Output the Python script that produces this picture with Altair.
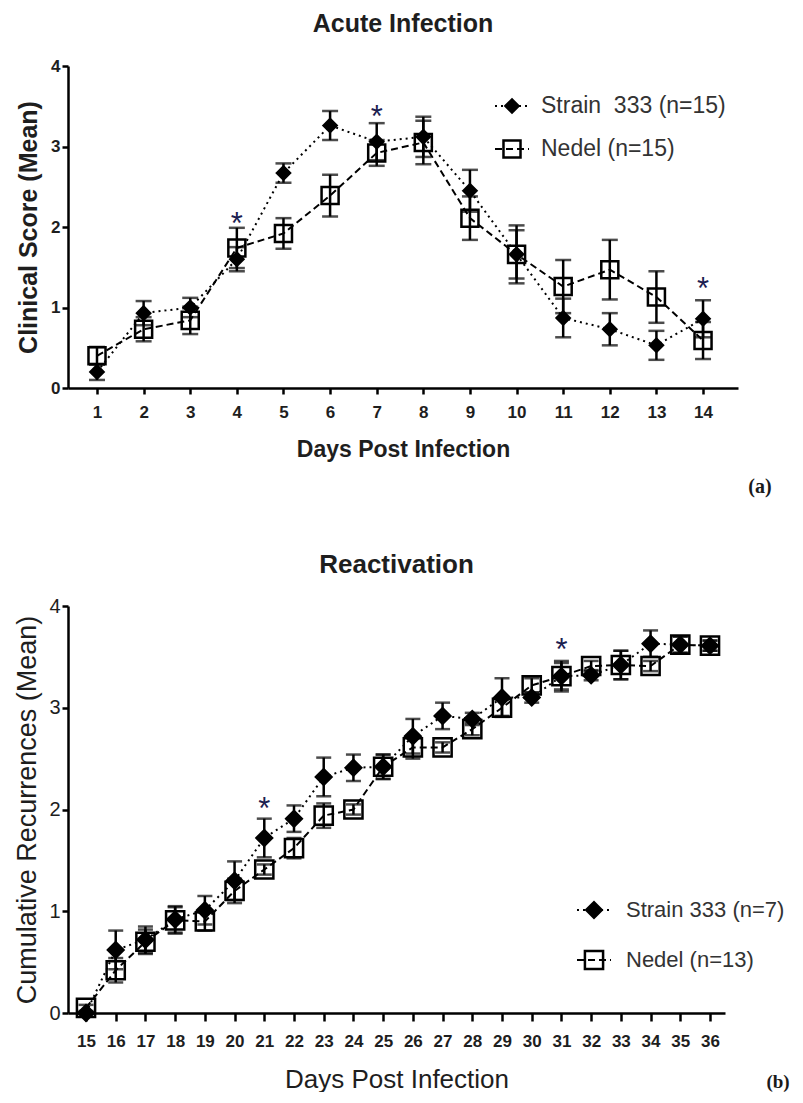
import altair as alt
import pandas as pd

# ---------------- data: acute infection ----------------
days_acute = list(range(1, 15))
strain_acute = [0.20, 0.93, 1.00, 1.60, 2.67, 3.26, 3.06, 3.12, 2.45, 1.66, 0.87, 0.73, 0.53, 0.86]
strain_acute_err = [0.10, 0.15, 0.12, 0.15, 0.12, 0.18, 0.23, 0.25, 0.26, 0.36, 0.24, 0.20, 0.18, 0.23]
nedel_acute = [0.40, 0.73, 0.84, 1.74, 1.92, 2.39, 2.92, 3.05, 2.11, 1.66, 1.26, 1.47, 1.13, 0.59]
nedel_acute_err = [0.11, 0.15, 0.17, 0.25, 0.19, 0.26, 0.16, 0.27, 0.27, 0.30, 0.33, 0.37, 0.32, 0.23]
names_acute = ["Strain\u00a0 333 (n=15)", "Nedel (n=15)"]
sig_days_acute = [4, 7, 14]
sig_y_acute = [2.12, 3.45, 1.32]

# ---------------- data: reactivation ----------------
days_react = list(range(15, 37))
strain_react = [0.00, 0.62, 0.72, 0.92, 1.01, 1.30, 1.72, 1.91, 2.32, 2.41, 2.42, 2.72, 2.92, 2.89,
                3.10, 3.10, 3.31, 3.32, 3.42, 3.63, 3.62, 3.61]
strain_react_err = [0.00, 0.19, 0.13, 0.13, 0.14, 0.19, 0.19, 0.13, 0.19, 0.13, 0.12, 0.17, 0.13, 0.06,
                    0.19, 0.05, 0.13, 0.05, 0.14, 0.13, 0.08, 0.05]
nedel_react = [0.05, 0.42, 0.70, 0.91, 0.90, 1.20, 1.41, 1.62, 1.94, 2.00, 2.42, 2.61, 2.61, 2.79,
               3.00, 3.22, 3.31, 3.41, 3.42, 3.41, 3.62, 3.61]
nedel_react_err = [0.03, 0.12, 0.12, 0.13, 0.09, 0.12, 0.05, 0.10, 0.12, 0.05, 0.12, 0.11, 0.05, 0.06,
                   0.08, 0.07, 0.15, 0.05, 0.14, 0.05, 0.08, 0.05]
names_react = ["Strain 333 (n=7)", "Nedel (n=13)"]
sig_days_react = [21, 31]
sig_y_react = [2.07, 3.64]

FONT = "Liberation Sans"
SERIF = "Liberation Serif"
INK = "#1e1e1e"
STAR = "#1b2050"
DASHES = [[2, 4], [7, 4]]


def build_df(days, s_mean, s_err, n_mean, n_err, names):
    rows = []
    for name, means, errs in ((names[0], s_mean, s_err), (names[1], n_mean, n_err)):
        for d, m, e in zip(days, means, errs):
            rows.append({"day": d, "series": name, "mean": m, "lo": m - e, "hi": m + e})
    return pd.DataFrame(rows)


def panel(df, names, sig_days, sig_y, letter, c):
    xs = alt.Scale(domain=c["xdomain"], nice=False, zero=False)
    ys = alt.Scale(domain=[0, 4], nice=False)
    shape_scale = alt.Scale(domain=names, range=["diamond", "square"])
    fill_scale = alt.Scale(domain=names, range=["black", "transparent"])
    xaxis = alt.Axis(
        values=c["xticks"], format="d", title="Days Post Infection",
        titleFont=FONT, titleFontSize=c["xtitle_size"], titleFontWeight=c["xtitle_weight"],
        titleColor=INK, titlePadding=c["xtitle_pad"],
        labelFont=FONT, labelFontSize=c["xlabel_size"], labelFontWeight="bold", labelColor=INK,
        labelPadding=c["xlabel_pad"], labelOverlap=False, labelFlush=False,
        domainColor="black", domainWidth=2.5, tickColor="black", tickWidth=2.5,
        tickSize=c["xtick"], grid=False,
    )
    yaxis = alt.Axis(
        values=[0, 1, 2, 3, 4], format="d", title=c["ytitle"],
        titleFont=FONT, titleFontSize=c["ytitle_size"], titleFontWeight=c["ytitle_weight"],
        titleColor=INK, titlePadding=c["ytitle_pad"],
        labelFont=FONT, labelFontSize=c["ylabel_size"], labelFontWeight=c["ylabel_weight"],
        labelColor=INK, labelPadding=2, labelFlush=False,
        domainColor="black", domainWidth=2.5, tickColor="black", tickWidth=2.5,
        tickSize=6, grid=False,
    )
    X = alt.X("day:Q", scale=xs, axis=xaxis)

    def Y(field):
        return alt.Y(f"{field}:Q", scale=ys, axis=yaxis)

    base = alt.Chart(df)
    lines = base.mark_line(color="black", strokeWidth=2).encode(
        x=X, y=Y("mean"),
        strokeDash=alt.StrokeDash("series:N", scale=alt.Scale(domain=names, range=DASHES), legend=None),
    )
    bars = base.mark_rule(color="black", strokeWidth=2.5).encode(x=X, y=Y("lo"), y2="hi:Q")
    cap_lo = base.mark_tick(orient="horizontal", color="black", size=c["cap"], thickness=2.5).encode(
        x=X, y=Y("lo"))
    cap_hi = base.mark_tick(orient="horizontal", color="black", size=c["cap"], thickness=2.5).encode(
        x=X, y=Y("hi"))

    layers = [lines, bars, cap_lo, cap_hi]
    for name, sz in zip(names, c["sizes"]):
        layers.append(
            base.transform_filter(alt.datum.series == name)
            .mark_point(stroke="black", strokeWidth=2.5, opacity=1, size=sz)
            .encode(
                x=X, y=Y("mean"),
                shape=alt.Shape("series:N", scale=shape_scale, legend=None),
                fill=alt.Fill("series:N", scale=fill_scale, legend=None),
            )
        )

    # legend (one entry per series)
    leg_df = pd.DataFrame({"series": names})
    for i, (name, sz) in enumerate(zip(names, c["sizes"])):
        entry = alt.Chart(leg_df).transform_filter(alt.datum.series == name)
        yv = c["leg_rows"][i]
        layers.append(entry.mark_rule(color="black", strokeWidth=2, strokeDash=DASHES[i]).encode(
            x=alt.value(c["leg_sx"] - 17), x2=alt.value(c["leg_sx"] + 17), y=alt.value(yv)))
        layers.append(entry.mark_point(stroke="black", strokeWidth=2.5, opacity=1, size=sz).encode(
            x=alt.value(c["leg_sx"]), y=alt.value(yv),
            shape=alt.Shape("series:N", scale=shape_scale, legend=None),
            fill=alt.Fill("series:N", scale=fill_scale, legend=None),
        ))
        layers.append(entry.mark_text(font=FONT, fontSize=c["leg_size"], color="#333", align="left",
                                      baseline="middle").encode(
            x=alt.value(c["leg_tx"]), y=alt.value(yv), text="series:N"))

    layers.append(alt.Chart(pd.DataFrame({"day": sig_days, "mean": sig_y})).mark_text(
        text="*", font=FONT, fontSize=31, color=STAR, baseline="alphabetic", dy=17
    ).encode(x=X, y=Y("mean")))
    layers.append(alt.Chart(pd.DataFrame({"t": [letter]})).mark_text(
        font=SERIF, fontSize=c["let_size"], fontWeight="bold", color="#1a1a1a", align="center",
        baseline="middle"
    ).encode(text="t:N", x=alt.value(c["letx"]), y=alt.value(c["lety"])))

    return alt.layer(*layers).properties(
        width=c["w"], height=c["h"],
        title=alt.TitleParams(c["title"], font=FONT, fontSize=c["title_size"], fontWeight="bold",
                              color=INK, anchor="middle", frame="group", offset=c["toff"]),
    )


top_cfg = dict(
    xdomain=[0.378, 14.75], xticks=days_acute, w=670, h=322,
    xtitle_size=23, xtitle_weight="bold", xtitle_pad=18, xlabel_size=17, xlabel_pad=10, xtick=6,
    ytitle="Clinical Score (Mean)", ytitle_size=25, ytitle_weight="bold", ytitle_pad=9,
    ylabel_size=17, ylabel_weight="bold",
    cap=16, sizes=[170, 290],
    leg_sx=444, leg_tx=473, leg_rows=[40, 83], leg_size=23,
    letx=692, lety=421, let_size=20, title="Acute Infection", title_size=25, toff=20,
)
bot_cfg = dict(
    xdomain=[14.394, 36.505], xticks=days_react, w=657, h=407,
    xtitle_size=26, xtitle_weight="normal", xtitle_pad=17, xlabel_size=17, xlabel_pad=12, xtick=8,
    ytitle="Cumulative Recurrences (Mean)", ytitle_size=27, ytitle_weight="normal", ytitle_pad=7,
    ylabel_size=20, ylabel_weight="normal",
    cap=15, sizes=[240, 330],
    leg_sx=526, leg_tx=558, leg_rows=[304, 354], leg_size=22,
    letx=710, lety=476, let_size=19, title="Reactivation", title_size=26, toff=18,
)

top = panel(build_df(days_acute, strain_acute, strain_acute_err, nedel_acute, nedel_acute_err, names_acute),
            names_acute, sig_days_acute, sig_y_acute, "(a)", top_cfg)
bottom = panel(build_df(days_react, strain_react, strain_react_err, nedel_react, nedel_react_err, names_react),
               names_react, sig_days_react, sig_y_react, "(b)", bot_cfg)

chart = alt.vconcat(top, bottom, spacing=55).configure_view(stroke=None).properties(
    background="white", padding={"left": 5, "top": 4, "right": 0, "bottom": 0}
)

chart.save("out.html", embed_options={"renderer": "svg", "actions": False})
